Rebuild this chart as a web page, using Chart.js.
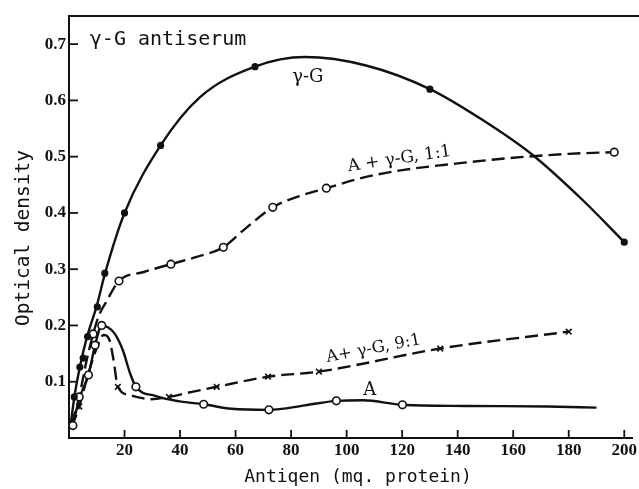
<!DOCTYPE html>
<html><head><meta charset="utf-8">
<script src="https://cdn.jsdelivr.net/npm/chart.js@4.4.1/dist/chart.umd.min.js"></script>
<style>html,body{margin:0;padding:0;background:#fff}#wrap{width:639px;height:489px}</style>
</head><body><div id="wrap"><canvas id="c" width="639" height="489"></canvas></div>
<script>
// ---- data ----
const xTickLabels = ['20','40','60','80','100','120','140','160','180','200'];
const yTickLabels = ['0.1','0.2','0.3','0.4','0.5','0.6','0.7'];

// γ-G curve (solid) and its observations (filled dots)
const gammaCurveX = [0.5,2,3.9,6.5,10,13,20,33,47,67,85,107,130,149,167,185,200];
const gammaCurveY = [0.02,0.075,0.126,0.18,0.235,0.293,0.40,0.52,0.605,0.66,0.677,0.662,0.62,0.565,0.503,0.423,0.348];
const gammaPtsX = [1.9,3.9,5.1,6.7,10.2,12.9,20,33,67,130,200];
const gammaPtsY = [0.073,0.126,0.142,0.18,0.233,0.293,0.40,0.52,0.66,0.62,0.348];

// A + γ-G 1:1 (dashed, open circles)
const mix11CurveX = [1,3.7,6,8.7,10.8,13.2,18,27,36.7,46,55.6,63,73.4,83,92.7,107,120,140,160,180,196.4];
const mix11CurveY = [0.025,0.073,0.13,0.185,0.218,0.24,0.279,0.295,0.309,0.322,0.339,0.37,0.41,0.43,0.444,0.464,0.476,0.488,0.498,0.505,0.508];
const mix11PtsX = [3.7,8.7,18,36.7,55.6,73.4,92.7,196.4];
const mix11PtsY = [0.073,0.185,0.279,0.309,0.339,0.41,0.444,0.508];

// A + γ-G 9:1 (dashed, crosses)
const mix91CurveX = [1,3.7,7,10,12.5,14.5,16,17.6,22,29.5,36,44.3,53.2,71.7,90,133.7,180];
const mix91CurveY = [0.02,0.056,0.115,0.16,0.183,0.175,0.14,0.091,0.076,0.069,0.073,0.082,0.091,0.109,0.118,0.159,0.189];
const mix91PtsX = [3.7,17.6,36,53.2,71.7,90,133.7,180];
const mix91PtsY = [0.056,0.091,0.073,0.091,0.109,0.118,0.159,0.189];

// A (solid, open circles)
const aCurveX = [1.4,3.7,7,9.4,11.8,14,16.4,19.4,22,24.1,31,40,48.5,58.5,72,85,96.3,106,120.1,143,172.5,190];
const aCurveY = [0.022,0.07,0.112,0.165,0.2,0.197,0.186,0.156,0.115,0.091,0.075,0.065,0.06,0.052,0.05,0.058,0.066,0.067,0.059,0.057,0.056,0.054];
const aPtsX = [1.4,7,9.4,11.8,24.1,48.5,72,96.3,120.1];
const aPtsY = [0.022,0.112,0.165,0.2,0.091,0.06,0.05,0.066,0.059];

// annotation texts
const labels = ['γ-G antiserum','γ-G','A + γ-G, 1:1','A+ γ-G, 9:1','A'];
const xTitle = 'Antiqen (mq. protein)';
const yTitle = 'Optical density';

const pts = (xs, ys) => xs.map((x, i) => ({x, y: ys[i]}));
const INK = '#111';
const MONO = '"DejaVu Sans Mono"';
const SERIF = '"DejaVu Serif"';

function curve(xs, ys, dash) {
  return {data: pts(xs, ys), borderColor: INK, borderWidth: 2.4, borderDash: dash,
    pointRadius: 0, fill: false, cubicInterpolationMode: 'monotone', order: 2};
}
function marks(xs, ys, style, fillC, r) {
  return {data: pts(xs, ys), showLine: false, pointStyle: style, pointRadius: r,
    pointBackgroundColor: fillC, pointBorderColor: INK, pointBorderWidth: 1.6, order: 1};
}

const deco = {
  id: 'deco',
  afterDraw(chart) {
    const {ctx, chartArea: ca, scales: {x, y}} = chart;
    ctx.save();
    ctx.strokeStyle = INK; ctx.lineWidth = 2;
    // top frame line
    ctx.beginPath(); ctx.moveTo(ca.left, ca.top); ctx.lineTo(chart.width, ca.top); ctx.stroke();
    // inner tick marks
    ctx.lineWidth = 1.8;
    x.ticks.forEach(t => { if (t.value > 0) { const p = x.getPixelForValue(t.value);
      ctx.beginPath(); ctx.moveTo(p, ca.bottom); ctx.lineTo(p, ca.bottom - 8); ctx.stroke(); }});
    y.ticks.forEach(t => { if (t.value > 0) { const p = y.getPixelForValue(t.value);
      ctx.beginPath(); ctx.moveTo(ca.left, p); ctx.lineTo(ca.left + 9, p); ctx.stroke(); }});
    ctx.fillStyle = INK; ctx.textBaseline = 'alphabetic';
    // axis titles
    ctx.font = '18px ' + MONO; ctx.textAlign = 'center';
    ctx.fillText(xTitle, 358, 482);
    ctx.save(); ctx.translate(29, 238); ctx.rotate(-Math.PI / 2);
    ctx.font = '19.5px ' + MONO; ctx.fillText(yTitle, 0, 0); ctx.restore();
    // annotations (positions in data space)
    const put = (txt, vx, vy, font, align, rot) => {
      ctx.save();
      ctx.translate(x.getPixelForValue(vx), y.getPixelForValue(vy));
      ctx.rotate(rot * Math.PI / 180);
      ctx.font = font; ctx.textAlign = align;
      ctx.fillText(txt, 0, 0);
      ctx.restore();
    };
    put(labels[0], 7.5, 0.698, '20px ' + MONO, 'left', 0);
    put(labels[1], 86, 0.632, '18px ' + SERIF, 'center', 0);
    put(labels[2], 119.3, 0.488, '17px ' + SERIF, 'center', -8.5);
    put(labels[3], 110, 0.151, '16.5px ' + SERIF, 'center', -10.7);
    put(labels[4], 108.3, 0.076, '18px ' + SERIF, 'center', 0);
    ctx.restore();
  }
};

new Chart(document.getElementById('c'), {
  type: 'line',
  data: {datasets: [
    curve(gammaCurveX, gammaCurveY, []),
    curve(mix11CurveX, mix11CurveY, [13, 6]),
    curve(mix91CurveX, mix91CurveY, [13, 6]),
    curve(aCurveX, aCurveY, []),
    marks(gammaPtsX, gammaPtsY, 'circle', INK, 2.8),
    marks(mix11PtsX, mix11PtsY, 'circle', '#fff', 3.8),
    marks(mix91PtsX, mix91PtsY, 'crossRot', INK, 4),
    marks(aPtsX, aPtsY, 'circle', '#fff', 3.8)
  ]},
  options: {
    responsive: false, animation: false, devicePixelRatio: 1,
    layout: {autoPadding: false, padding: {top: 16, right: 0, left: 0, bottom: 0}},
    plugins: {legend: {display: false}, tooltip: {enabled: false}},
    scales: {
      x: {type: 'linear', min: 0, max: 203,
        afterFit(s) { s.height = 51; },
        grid: {display: false, drawTicks: false},
        border: {display: true, color: INK, width: 2},
        ticks: {stepSize: 20, includeBounds: false, padding: 2, color: INK, maxRotation: 0,
          font: {family: '"Liberation Serif"', size: 17, weight: 'bold'},
          callback: (v) => { const i = Math.round(v / 20) - 1; return v > 0 && i < xTickLabels.length ? xTickLabels[i] : ''; }},
        title: {display: false}
      },
      y: {type: 'linear', min: 0, max: 0.75,
        afterFit(s) { s.width = 69; },
        grid: {display: false, drawTicks: false},
        border: {display: true, color: INK, width: 2},
        ticks: {stepSize: 0.1, includeBounds: false, padding: 3, color: INK,
          font: {family: '"Liberation Serif"', size: 17, weight: 'bold'},
          callback: (v) => { const i = Math.round(v * 10) - 1; return v > 0.01 && i < yTickLabels.length ? yTickLabels[i] : ''; }},
        title: {display: false}
      }
    }
  },
  plugins: [deco]
});
</script></body></html>
